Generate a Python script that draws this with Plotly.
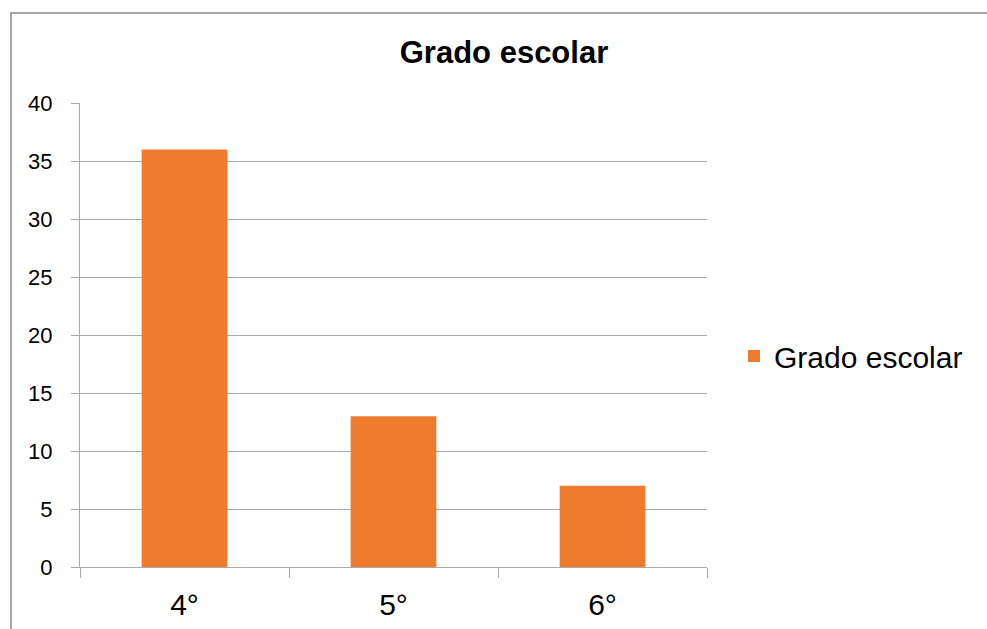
import plotly.graph_objects as go

categories = ["4°", "5°", "6°"]
values = [36, 13, 7]
series_name = "Grado escolar"
chart_title = "Grado escolar"
y_ticks = [0, 5, 10, 15, 20, 25, 30, 35, 40]

W, H = 987, 629
ml, mr, mt, mb = 80, 280, 103, 62
pw, ph = W - ml - mr, H - mt - mb

fig = go.Figure()
fig.add_trace(go.Bar(
    x=categories, y=values, name=series_name,
    marker=dict(color="#EF7B2E", line=dict(width=0)),
    width=0.41, showlegend=True,
))

grid = "#A9A9A9"
fig.update_layout(
    width=W, height=H,
    margin=dict(l=ml, r=mr, t=mt, b=mb, autoexpand=False),
    paper_bgcolor="white", plot_bgcolor="white",
    font=dict(family="Liberation Sans, Arial, sans-serif", color="#000000"),
    title=dict(text="<b>" + chart_title + "</b>", xref="container", x=504 / W,
               xanchor="center", yref="container", y=1 - 52 / H, yanchor="middle",
               font=dict(size=31, color="#000000")),
    showlegend=True,
    legend=dict(x=(734 - ml) / pw, xanchor="left", y=(567 - 356) / ph, yanchor="middle",
                font=dict(size=30), bgcolor="rgba(0,0,0,0)", itemclick=False),
    xaxis=dict(type="category", showline=True, linecolor=grid, linewidth=1,
               ticks="outside", ticklen=10, tickcolor=grid, tickwidth=1,
               tickson="boundaries", showgrid=False, tickfont=dict(size=30),
               ticklabelstandoff=11, range=[-0.5, 2.5]),
    yaxis=dict(range=[0, 40], tickvals=y_ticks, showline=True, linecolor=grid,
               linewidth=1, ticks="outside", ticklen=8, tickcolor=grid, tickwidth=1,
               showgrid=True, gridcolor=grid, gridwidth=1, zeroline=False,
               tickfont=dict(size=22), ticklabelstandoff=14),
    bargap=0.59,
)

# outer chart border (cropped at right and bottom like the reference)
fig.add_shape(type="rect", xref="paper", yref="paper",
              x0=(11 - ml) / pw, x1=(W + 20 - ml) / pw,
              y0=(567 - (H + 20)) / ph, y1=(567 - 13) / ph,
              line=dict(color="#8C8C8C", width=1.5), fillcolor="rgba(0,0,0,0)",
              layer="below")

fig.write_html("out.html", config={"displayModeBar": False},
               post_script="document.body.style.margin='0';document.body.style.overflow='hidden';")
